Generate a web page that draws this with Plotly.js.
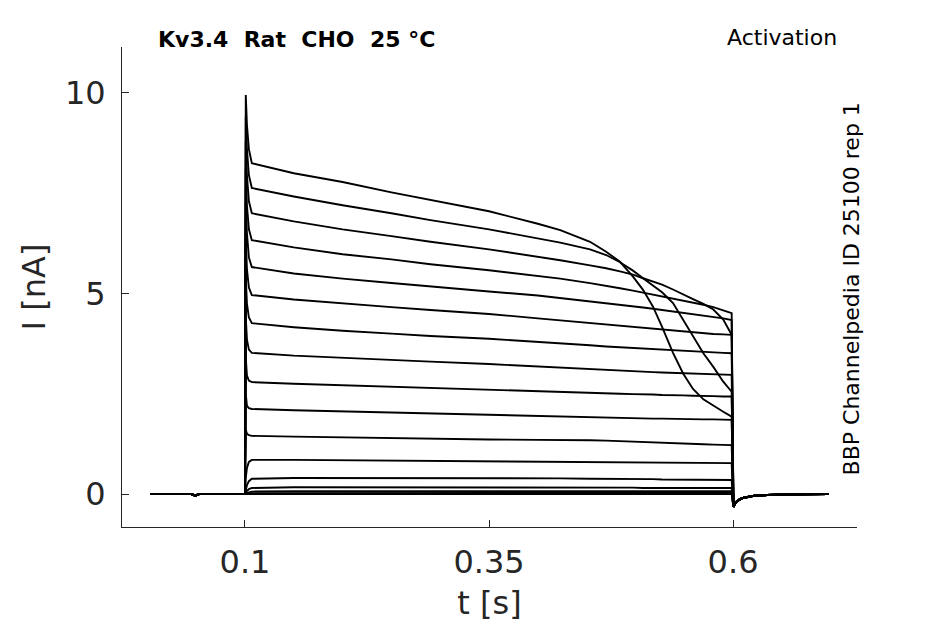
<!DOCTYPE html>
<html>
<head>
<meta charset="utf-8">
<script src="https://cdn.plot.ly/plotly-3.0.1.min.js"></script>
<style>html,body{margin:0;padding:0;background:#fff;}</style>
</head>
<body>
<div id="chart" style="width:945px;height:624px;"></div>
<script>
// Holding segment before the step (s, nA)
var baseT = [0.003, 0.045, 0.049, 0.053, 0.0995];
var baseI = [0, 0, -0.04, 0, 0];

// Step segment times (s)
var stepT = [0.1, 0.1008, 0.102, 0.104, 0.107, 0.15, 0.2, 0.25, 0.29, 0.35, 0.4, 0.423, 0.4535,
             0.47, 0.4842, 0.4975, 0.5078, 0.518, 0.5273, 0.5385, 0.549, 0.559, 0.5696, 0.5798, 0.59, 0.5986];

// Current during the step, one array per sweep (nA)
var sweep1  = [0, 9.95, 9.2, 8.6, 8.25, 8.0, 7.78, 7.52, 7.33, 7.05, 6.74, 6.58, 6.29, 6.04, 5.79, 5.42, 5.09, 4.67, 4.17, 3.52, 3.0, 2.62, 2.36, 2.2, 2.05, 1.93];
var sweep2  = [0, 9.4, 8.6, 7.95, 7.63, 7.42, 7.2, 7.0, 6.83, 6.6, 6.38, 6.27, 6.1, 5.96, 5.78, 5.57, 5.38, 5.2, 5.03, 4.76, 4.34, 3.92, 3.51, 3.17, 2.8, 2.55];
var sweep3  = [0, 8.8, 7.95, 7.3, 7.0, 6.8, 6.6, 6.43, 6.29, 6.1, 5.92, 5.83, 5.7, 5.63, 5.55, 5.47, 5.38, 5.3, 5.22, 5.1, 4.97, 4.86, 4.74, 4.6, 4.35, 3.97];
var sweep4  = [0, 8.1, 7.2, 6.6, 6.33, 6.15, 5.98, 5.85, 5.73, 5.58, 5.44, 5.37, 5.26, 5.2, 5.13, 5.07, 5.02, 4.97, 4.93, 4.88, 4.83, 4.78, 4.72, 4.66, 4.58, 4.51];
var sweep5  = [0, 7.3, 6.5, 5.9, 5.66, 5.5, 5.37, 5.26, 5.17, 5.05, 4.95, 4.89, 4.8, 4.76, 4.72, 4.68, 4.65, 4.62, 4.59, 4.55, 4.52, 4.48, 4.45, 4.41, 4.38, 4.34];
var sweep6  = [0, 6.4, 5.6, 5.15, 4.96, 4.85, 4.75, 4.66, 4.59, 4.49, 4.38, 4.33, 4.27, 4.23, 4.2, 4.17, 4.14, 4.12, 4.1, 4.07, 4.05, 4.03, 4.01, 3.99, 3.98, 3.97];
var sweep7  = [0, 5.4, 4.75, 4.4, 4.26, 4.16, 4.07, 4.0, 3.94, 3.87, 3.8, 3.76, 3.71, 3.68, 3.66, 3.64, 3.62, 3.61, 3.59, 3.58, 3.56, 3.55, 3.54, 3.53, 3.52, 3.51];
var sweep8  = [0, 4.4, 3.85, 3.6, 3.52, 3.45, 3.39, 3.34, 3.3, 3.24, 3.18, 3.14, 3.1, 3.08, 3.07, 3.06, 3.05, 3.04, 3.03, 3.02, 3.01, 3.0, 2.99, 2.98, 2.97, 2.97];
var sweep9  = [0, 3.4, 2.95, 2.83, 2.79, 2.75, 2.71, 2.67, 2.64, 2.6, 2.56, 2.54, 2.52, 2.51, 2.5, 2.49, 2.49, 2.48, 2.47, 2.47, 2.46, 2.45, 2.45, 2.44, 2.43, 2.43];
var sweep10 = [0, 2.5, 2.2, 2.14, 2.12, 2.09, 2.06, 2.03, 2.01, 1.98, 1.94, 1.92, 1.9, 1.9, 1.89, 1.89, 1.88, 1.88, 1.88, 1.87, 1.87, 1.86, 1.86, 1.86, 1.85, 1.85];
var sweep11 = [0, 1.6, 1.5, 1.47, 1.45, 1.43, 1.41, 1.39, 1.37, 1.36, 1.35, 1.35, 1.34, 1.33, 1.32, 1.31, 1.3, 1.29, 1.28, 1.27, 1.26, 1.25, 1.24, 1.23, 1.22, 1.22];
var sweep12 = [0, 0.4, 0.65, 0.8, 0.85, 0.85, 0.84, 0.83, 0.82, 0.81, 0.8, 0.8, 0.8, 0.79, 0.79, 0.79, 0.78, 0.78, 0.78, 0.78, 0.77, 0.77, 0.77, 0.77, 0.77, 0.77];
var sweep13 = [0, 0.1, 0.22, 0.32, 0.38, 0.4, 0.4, 0.4, 0.39, 0.39, 0.39, 0.39, 0.38, 0.38, 0.38, 0.37, 0.37, 0.37, 0.36, 0.36, 0.36, 0.36, 0.35, 0.35, 0.35, 0.35];
var sweep14 = [0, 0.03, 0.08, 0.12, 0.15, 0.17, 0.17, 0.17, 0.17, 0.16, 0.16, 0.16, 0.16, 0.16, 0.16, 0.16, 0.15, 0.15, 0.15, 0.15, 0.15, 0.15, 0.15, 0.15, 0.15, 0.15];
var sweep15 = [0, 0.01, 0.03, 0.05, 0.06, 0.07, 0.07, 0.07, 0.07, 0.07, 0.07, 0.07, 0.07, 0.07, 0.07, 0.07, 0.07, 0.07, 0.07, 0.07, 0.07, 0.07, 0.07, 0.07, 0.07, 0.07];
var sweep16 = [0, 0.0, 0.01, 0.02, 0.02, 0.03, 0.03, 0.03, 0.03, 0.03, 0.03, 0.03, 0.03, 0.03, 0.03, 0.03, 0.03, 0.03, 0.03, 0.03, 0.03, 0.03, 0.03, 0.03, 0.03, 0.03];
var sweep17 = [0, 0, 0, 0, 0, 0, 0, 0, 0, 0, 0, 0, 0, 0, 0, 0, 0, 0, 0, 0, 0, 0, 0, 0, 0, 0];

// Tail after the step ends
var tailT = [0.6004, 0.603, 0.607, 0.61, 0.62, 0.635, 0.66, 0.698];
var tailI = [-0.32, -0.2, -0.13, -0.1, -0.05, -0.025, -0.01, 0];

// Tick labels
var xTickVals = [0.1, 0.35, 0.6];
var xTickText = ['0.1', '0.35', '0.6'];
var yTickVals = [0, 5, 10];
var yTickText = ['0', '5', '10'];

var sweeps = [sweep1, sweep2, sweep3, sweep4, sweep5, sweep6, sweep7, sweep8, sweep9,
              sweep10, sweep11, sweep12, sweep13, sweep14, sweep15, sweep16, sweep17];

var traces = sweeps.map(function (s) {
  return {
    x: baseT.concat(stepT, tailT),
    y: baseI.concat(s, tailI),
    type: 'scatter',
    mode: 'lines',
    line: {color: '#000000', width: 1.9},
    hoverinfo: 'skip',
    showlegend: false
  };
});

var axisFont = {family: 'DejaVu Sans', size: 32, color: '#262626'};

var layout = {
  width: 945,
  height: 624,
  margin: {l: 122, r: 88, t: 47, b: 97, pad: 0},
  paper_bgcolor: '#ffffff',
  plot_bgcolor: '#ffffff',
  showlegend: false,
  xaxis: {
    range: [-0.026, 0.727],
    tickvals: xTickVals,
    ticktext: xTickText,
    ticks: 'inside',
    ticklen: 7,
    tickwidth: 1,
    tickcolor: '#262626',
    showline: true,
    linecolor: '#262626',
    linewidth: 1,
    showgrid: false,
    zeroline: false,
    tickfont: axisFont,
    ticklabelstandoff: 7,
    title: {text: 't [s]', font: axisFont, standoff: 11},
    automargin: false
  },
  yaxis: {
    range: [-0.823, 11.147],
    tickvals: yTickVals,
    ticktext: yTickText,
    ticks: 'inside',
    ticklen: 7,
    tickwidth: 1,
    tickcolor: '#262626',
    showline: true,
    linecolor: '#262626',
    linewidth: 1,
    showgrid: false,
    zeroline: false,
    tickfont: axisFont,
    ticklabelstandoff: 9,
    title: {text: 'I [nA]', font: axisFont, standoff: 9},
    automargin: false
  },
  annotations: [
    {
      xref: 'paper', yref: 'paper', x: 0.046, y: 1.0146,
      xanchor: 'left', yanchor: 'middle', showarrow: false,
      text: '<b>Kv3.4\u00a0\u00a0Rat\u00a0\u00a0CHO\u00a0\u00a025\u00a0\u00b0C</b>',
      font: {family: 'DejaVu Sans', size: 22, color: '#000000'}
    },
    {
      xref: 'paper', yref: 'paper', x: 0.976, y: 1.0188,
      xanchor: 'right', yanchor: 'middle', showarrow: false,
      text: 'Activation',
      font: {family: 'DejaVu Sans', size: 22, color: '#000000'}
    },
    {
      xref: 'paper', yref: 'paper', x: 0.9918, y: 0.497,
      xanchor: 'center', yanchor: 'middle', showarrow: false,
      textangle: -90,
      text: 'BBP Channelpedia ID 25100 rep 1',
      font: {family: 'DejaVu Sans', size: 22, color: '#000000'}
    }
  ]
};

Plotly.newPlot('chart', traces, layout, {staticPlot: true, displayModeBar: false});
</script>
</body>
</html>
